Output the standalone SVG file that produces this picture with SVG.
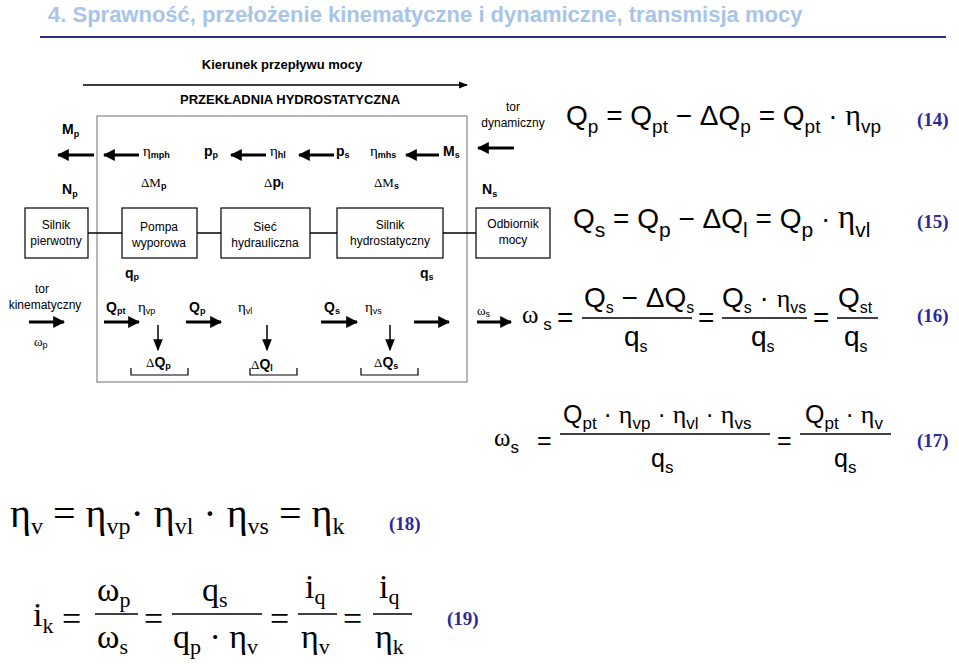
<svg xmlns="http://www.w3.org/2000/svg" width="959" height="664" viewBox="0 0 959 664">
<defs>
<marker id="ah" viewBox="0 0 10 10" refX="9" refY="5" markerWidth="4" markerHeight="4" orient="auto"><path d="M0,0 L10,5 L0,10 z" fill="#000"/></marker>
<marker id="ahs" viewBox="0 0 10 10" refX="9" refY="5" markerWidth="6" markerHeight="6" orient="auto"><path d="M0,1 L10,5 L0,9 z" fill="#000"/></marker>
<marker id="ahd" viewBox="0 0 10 10" refX="9" refY="5" markerWidth="8" markerHeight="8" orient="auto"><path d="M0,1 L10,5 L0,9 z" fill="#000"/></marker>
</defs>
<style>
.s{font-family:"Liberation Sans",Arial,sans-serif;fill:#000}
.b{font-weight:bold}
.t{font-family:"Liberation Serif","Times New Roman",serif;fill:#000}
.n{font-family:"Liberation Serif","Times New Roman",serif;font-weight:bold;fill:#2a2a9a;font-size:19px}
.box{fill:#fff;stroke:#000;stroke-width:1.2}
.arr{stroke:#000;stroke-width:3;marker-end:url(#ah)}
.dn{stroke:#000;stroke-width:1.5;marker-end:url(#ahd)}
.eq{font-family:"Liberation Sans",Arial,sans-serif;font-size:28px}
.eqn{font-family:"Liberation Sans Narrow","Liberation Sans",Arial,sans-serif;font-size:25px}
.g{font-family:"Liberation Serif","Times New Roman",serif}
</style>
<rect width="959" height="664" fill="#fff"/>
<text x="48" y="22" class="s b" font-size="22" style="fill:#a8c4e8">4. Sprawność, przełożenie kinematyczne i dynamiczne, transmisja mocy</text>
<line x1="40" y1="37" x2="946" y2="37" stroke="#2b2b8c" stroke-width="2"/>

<text x="282" y="69" class="s b" font-size="13" text-anchor="middle">Kierunek przepływu mocy</text>
<line x1="83" y1="85" x2="467" y2="85" stroke="#000" stroke-width="1.5" marker-end="url(#ahs)"/>
<text x="290" y="104" class="s b" font-size="13" text-anchor="middle">PRZEKŁADNIA HYDROSTATYCZNA</text>
<rect id="przekladnia" x="97" y="116" width="370" height="266" fill="none" stroke="#888" stroke-width="1.2"/>

<g id="connectors">
<line x1="88" y1="233" x2="122" y2="233" stroke="#000" stroke-width="1.5"/>
<line x1="197" y1="233" x2="221" y2="233" stroke="#000" stroke-width="1.5"/>
<line x1="310" y1="233" x2="337" y2="233" stroke="#000" stroke-width="1.5"/>
<line x1="443" y1="233" x2="476" y2="233" stroke="#000" stroke-width="1.5"/>
<line class="arr" x1="94" y1="155" x2="58" y2="155"/>
<line class="arr" x1="139" y1="155" x2="104" y2="155"/>
<line class="arr" x1="266" y1="155" x2="231" y2="155"/>
<line class="arr" x1="334" y1="155" x2="299" y2="155"/>
<line class="arr" x1="439" y1="155" x2="406" y2="155"/>
<line class="arr" x1="514" y1="148" x2="478" y2="148"/>
<line class="arr" x1="29" y1="322" x2="64" y2="322"/>
<line class="arr" x1="104" y1="322" x2="139" y2="322"/>
<line class="arr" x1="186" y1="322" x2="221" y2="322"/>
<line class="arr" x1="321" y1="322" x2="357" y2="322"/>
<line class="arr" x1="414" y1="322" x2="449" y2="322"/>
<line class="arr" x1="477" y1="322" x2="511" y2="322"/>
<line class="dn" x1="158" y1="325" x2="158" y2="350"/>
<line class="dn" x1="267" y1="325" x2="267" y2="350"/>
<line class="dn" x1="390" y1="325" x2="390" y2="350"/>
<path d="M131,368 V375 H188 V368 M250,368 V375 H297 V368 M361,368 V375 H418 V368" fill="none" stroke="#000" stroke-width="1.2"/>
</g>

<g class="s" font-size="12">
<text x="62" y="134" class="b" font-size="14">M<tspan font-size="9" dy="3">p</tspan></text>
<text x="143" y="156" class="b" font-size="13"><tspan class="g" font-weight="normal" font-size="15">η</tspan><tspan font-size="9" dy="2">mph</tspan></text>
<text x="204" y="156" class="b" font-size="14">p<tspan font-size="9" dy="2">p</tspan></text>
<text x="270" y="156" class="b"><tspan class="g" font-weight="normal" font-size="15">η</tspan><tspan font-size="9" dy="2">hl</tspan></text>
<text x="336" y="156" class="b" font-size="14">p<tspan font-size="9" dy="2">s</tspan></text>
<text x="370" y="156" class="b"><tspan class="g" font-weight="normal" font-size="15">η</tspan><tspan font-size="9" dy="2">mhs</tspan></text>
<text x="443" y="156" class="b" font-size="14">M<tspan font-size="9" dy="2">s</tspan></text>
<text x="513" y="111" text-anchor="middle">tor</text>
<text x="513" y="127" text-anchor="middle">dynamiczny</text>

<text x="141" y="187" class="t" font-size="13">ΔM<tspan class="s b" font-size="9" dy="2">p</tspan></text>
<text x="264" y="187" class="b" font-size="14"><tspan class="t" font-weight="normal" font-size="13">Δ</tspan>p<tspan font-size="9" dy="2">l</tspan></text>
<text x="374" y="187" class="t" font-size="13">ΔM<tspan class="s b" font-size="9" dy="2">s</tspan></text>
<text x="62" y="194" class="b" font-size="14">N<tspan font-size="9" dy="3">p</tspan></text>
<text x="482" y="194" class="b" font-size="14">N<tspan font-size="9" dy="3">s</tspan></text>

<text x="125" y="278" class="b" font-size="14">q<tspan font-size="9" dy="2">p</tspan></text>
<text x="420" y="278" class="b" font-size="14">q<tspan font-size="9" dy="2">s</tspan></text>
<text x="42" y="293" text-anchor="middle">tor</text>
<text x="45" y="309" text-anchor="middle">kinematyczny</text>
<text x="34" y="346" class="g" font-size="13">ω<tspan class="s" font-size="9" dy="2">p</tspan></text>
<text x="106" y="312" class="b" font-size="14">Q<tspan font-size="9" dy="2">pt</tspan></text>
<text x="138" y="312"><tspan class="g" font-size="15">η</tspan><tspan font-size="9" dy="2">vp</tspan></text>
<text x="189" y="312" class="b" font-size="14">Q<tspan font-size="9" dy="2">p</tspan></text>
<text x="238" y="312"><tspan class="g" font-size="15">η</tspan><tspan font-size="9" dy="2">vl</tspan></text>
<text x="324" y="312" class="b" font-size="14">Q<tspan font-size="9" dy="2">s</tspan></text>
<text x="365" y="312"><tspan class="g" font-size="15">η</tspan><tspan font-size="9" dy="2">vs</tspan></text>
<text x="477" y="315" class="g" font-size="13">ω<tspan class="s" font-size="9" dy="2">s</tspan></text>
<text x="146" y="367" class="b" font-size="14"><tspan class="t" font-weight="normal" font-size="13">Δ</tspan>Q<tspan font-size="9" dy="2">p</tspan></text>
<text x="251" y="369" class="b" font-size="14"><tspan class="t" font-weight="normal" font-size="13">Δ</tspan>Q<tspan font-size="9" dy="2">l</tspan></text>
<text x="374" y="367" class="b" font-size="14"><tspan class="t" font-weight="normal" font-size="13">Δ</tspan>Q<tspan font-size="9" dy="2">s</tspan></text>
</g>

<g id="silnik-pierwotny" class="s" font-size="12"><rect class="box" x="25" y="208" width="63" height="50"/><text x="56" y="229" text-anchor="middle">Silnik</text><text x="56" y="245" text-anchor="middle">pierwotny</text></g>
<g id="pompa" class="s" font-size="12"><rect class="box" x="122" y="208" width="75" height="50"/><text x="159" y="231" text-anchor="middle">Pompa</text><text x="159" y="247" text-anchor="middle">wyporowa</text></g>
<g id="siec" class="s" font-size="12"><rect class="box" x="221" y="208" width="89" height="50"/><text x="265" y="231" text-anchor="middle">Sieć</text><text x="265" y="247" text-anchor="middle">hydrauliczna</text></g>
<g id="silnik-hydro" class="s" font-size="12"><rect class="box" x="337" y="208" width="106" height="50"/><text x="390" y="229" text-anchor="middle">Silnik</text><text x="390" y="245" text-anchor="middle">hydrostatyczny</text></g>
<g id="odbiornik" class="s" font-size="12"><rect class="box" x="476" y="208" width="74" height="50"/><text x="513" y="228" text-anchor="middle">Odbiornik</text><text x="513" y="244" text-anchor="middle">mocy</text></g>

<text x="566" y="125" class="eq">Q<tspan font-size="19" dy="8">p</tspan><tspan dy="-8"> = Q</tspan><tspan font-size="19" dy="8">pt</tspan><tspan dy="-8"> − ΔQ</tspan><tspan font-size="19" dy="8">p</tspan><tspan dy="-8"> = Q</tspan><tspan font-size="19" dy="8">pt</tspan><tspan dy="-8"> · </tspan><tspan class="g" font-size="30">η</tspan><tspan font-size="19" dy="8">vp</tspan></text>
<text x="917" y="126" class="n">(14)</text>
<text x="573" y="228" class="eq" font-size="31">Q<tspan font-size="21" dy="9">s</tspan><tspan dy="-9"> = Q</tspan><tspan font-size="21" dy="9">p</tspan><tspan dy="-9"> − ΔQ</tspan><tspan font-size="21" dy="9">l</tspan><tspan dy="-9"> = Q</tspan><tspan font-size="21" dy="9">p</tspan><tspan dy="-9"> · </tspan><tspan class="g" font-size="33">η</tspan><tspan font-size="21" dy="9">vl</tspan></text>
<text x="917" y="228" class="n">(15)</text>
<g class="eq" font-size="24">
<text x="522" y="323"><tspan class="g" font-size="25">ω</tspan><tspan font-size="17" dy="7"> s</tspan></text>
<text x="557" y="327">=</text>
<text x="584" y="307">Q<tspan font-size="16" dy="6">s</tspan><tspan dy="-6"> − ΔQ</tspan><tspan font-size="16" dy="6">s</tspan></text>
<line x1="582" y1="318" x2="692" y2="318" stroke="#000" stroke-width="1.3"/>
<text x="624" y="346">q<tspan font-size="16" dy="6">s</tspan></text>
<text x="698" y="327">=</text>
<text x="722" y="307">Q<tspan font-size="16" dy="6">s</tspan><tspan dy="-6"> · </tspan><tspan class="g" font-size="26">η</tspan><tspan font-size="16" dy="6">vs</tspan></text>
<line x1="722" y1="318" x2="807" y2="318" stroke="#000" stroke-width="1.3"/>
<text x="751" y="346">q<tspan font-size="16" dy="6">s</tspan></text>
<text x="813" y="327">=</text>
<text x="838" y="307">Q<tspan font-size="16" dy="6">st</tspan></text>
<line x1="837" y1="318" x2="878" y2="318" stroke="#000" stroke-width="1.3"/>
<text x="844" y="346">q<tspan font-size="16" dy="6">s</tspan></text>
</g>
<text x="917" y="322" class="n">(16)</text>
<g class="eqn">
<text x="494" y="446"><tspan class="g" font-size="25">ω</tspan><tspan font-size="17" dy="7">s</tspan></text>
<text x="537" y="449">=</text>
<text x="563" y="423">Q<tspan font-size="17" dy="6">pt</tspan><tspan dy="-6"> · </tspan><tspan class="g" font-size="26">η</tspan><tspan font-size="17" dy="6">vp</tspan><tspan dy="-6"> · </tspan><tspan class="g" font-size="26">η</tspan><tspan font-size="17" dy="6">vl</tspan><tspan dy="-6"> · </tspan><tspan class="g" font-size="26">η</tspan><tspan font-size="17" dy="6">vs</tspan></text>
<line x1="560" y1="434" x2="770" y2="434" stroke="#000" stroke-width="1.3"/>
<text x="651" y="467">q<tspan font-size="17" dy="6">s</tspan></text>
<text x="777" y="449">=</text>
<text x="805" y="423">Q<tspan font-size="17" dy="6">pt</tspan><tspan dy="-6"> · </tspan><tspan class="g" font-size="26">η</tspan><tspan font-size="17" dy="6">v</tspan></text>
<line x1="800" y1="434" x2="891" y2="434" stroke="#000" stroke-width="1.3"/>
<text x="834" y="467">q<tspan font-size="17" dy="6">s</tspan></text>
</g>
<text x="917" y="447" class="n">(17)</text>
<text x="10" y="527" class="t" font-size="40">η<tspan font-size="24" dy="7">v</tspan><tspan dy="-7"> = η</tspan><tspan font-size="24" dy="7">vp</tspan><tspan dy="-7">· η</tspan><tspan font-size="24" dy="7">vl</tspan><tspan dy="-7"> · η</tspan><tspan font-size="24" dy="7">vs</tspan><tspan dy="-7"> = η</tspan><tspan font-size="24" dy="7">k</tspan></text>
<text x="389" y="530" class="n">(18)</text>
<g class="t" font-size="34">
<text x="33" y="626">i<tspan font-size="22" dy="7">k</tspan></text>
<text x="62" y="630">=</text>
<text x="97" y="601">ω<tspan font-size="22" dy="6">p</tspan></text>
<line x1="95" y1="614" x2="138" y2="614" stroke="#000" stroke-width="1.3"/>
<text x="97" y="648">ω<tspan font-size="22" dy="6">s</tspan></text>
<text x="144" y="630">=</text>
<text x="202" y="601">q<tspan font-size="22" dy="6">s</tspan></text>
<line x1="172" y1="614" x2="262" y2="614" stroke="#000" stroke-width="1.3"/>
<text x="173" y="648">q<tspan font-size="22" dy="6">p</tspan><tspan dy="-6"> · η</tspan><tspan font-size="22" dy="6">v</tspan></text>
<text x="270" y="630">=</text>
<text x="305" y="598">i<tspan font-size="22" dy="6">q</tspan></text>
<line x1="298" y1="614" x2="337" y2="614" stroke="#000" stroke-width="1.3"/>
<text x="301" y="648">η<tspan font-size="22" dy="6">v</tspan></text>
<text x="343" y="630">=</text>
<text x="379" y="598">i<tspan font-size="22" dy="6">q</tspan></text>
<line x1="373" y1="614" x2="412" y2="614" stroke="#000" stroke-width="1.3"/>
<text x="375" y="648">η<tspan font-size="22" dy="6">k</tspan></text>
</g>
<text x="447" y="625" class="n">(19)</text>
</svg>
